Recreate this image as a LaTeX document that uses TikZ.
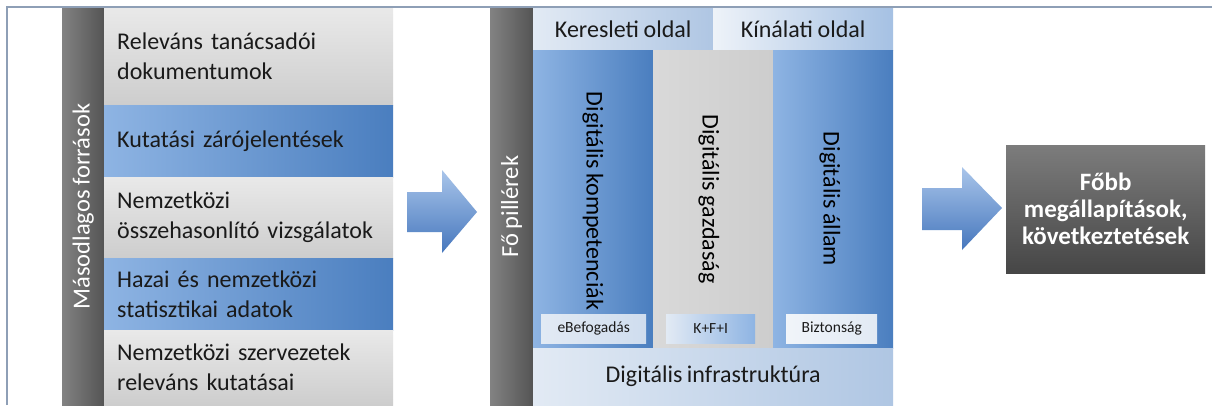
\documentclass[tikz,border=0pt]{standalone}
\usepackage{fontspec}
\setmainfont[WordSpace=0.85]{Carlito}
\definecolor{framec}{HTML}{8E9FB6}
\definecolor{barL}{HTML}{828282}
\definecolor{barR}{HTML}{545454}
\definecolor{grayT}{HTML}{E9E9E9}
\definecolor{grayB}{HTML}{CDCDCD}
\definecolor{blueL}{HTML}{8EB4E3}
\definecolor{blueR}{HTML}{4A7EBF}
\definecolor{paleL}{HTML}{E2EAF4}
\definecolor{paleR}{HTML}{AFC6E3}
\definecolor{midG}{HTML}{CDCDCD}
\definecolor{midGL}{HTML}{D9D9D9}
\definecolor{arrT}{HTML}{A9C5EA}
\definecolor{arrB}{HTML}{4677BD}
\definecolor{resT}{HTML}{7C7C7C}
\definecolor{resB}{HTML}{464646}
\definecolor{txt}{HTML}{1A1A1A}
\begin{document}
\begin{tikzpicture}[x=1pt,y=-1pt,
  boxbase/.style={rectangle, draw=none, inner sep=0pt, anchor=north west},
  darkbar/.style={boxbase, left color=barL, right color=barR},
  grayrow/.style={boxbase, top color=grayT, bottom color=grayB, align=left,
     text width=263pt, inner xsep=13pt, text=txt, font=\fontsize{24}{30}\selectfont},
  bluerow/.style={boxbase, left color=blueL, right color=blueR, align=left,
     text width=263pt, inner xsep=13pt, text=txt, font=\fontsize{24}{30}\selectfont},
  bartext/.style={rotate=90, text=white, font=\fontsize{24.5}{28}\selectfont},
  pilltext/.style={rotate=-90, text=black, font=\fontsize{24}{28}\selectfont},
  hdrtext/.style={text=txt, font=\fontsize{24}{28}\selectfont},
  subtext/.style={text=txt, font=\fontsize{15.5}{18}\selectfont},
  blockarrow/.style={top color=arrT, bottom color=arrB, draw=none}
]
\useasboundingbox (0,0) rectangle (1212,405);
\fill[white] (0,0) rectangle (1212,405);
% frame
\draw[framec, line width=1.6pt] (7,405) -- (7,7) -- (1212,7);

% ---- left panel
\node[darkbar, minimum width=42, minimum height=397] (bar1) at (62,8) {};
\node[bartext] (bar1t) at (bar1.center) {Másodlagos források};
\node[grayrow, minimum height=97] (r1) at (104,8) {Releváns tanácsadói\\dokumentumok};
\node[bluerow, minimum height=72] (r2) at (104,105) {Kutatási zárójelentések};
\node[grayrow, minimum height=81] (r3) at (104,177) {Nemzetközi\\összehasonlító vizsgálatok};
\node[bluerow, minimum height=72] (r4) at (104,258) {Hazai és nemzetközi\\statisztikai adatok};
\node[grayrow, minimum height=75] (r5) at (104,330) {Nemzetközi szervezetek\\releváns kutatásai};

% ---- arrow 1
\shade[blockarrow] (407,192) -- (442,192) -- (442,170) -- (477,212) -- (442,253) -- (442,232) -- (407,232) -- cycle;

% ---- middle panel
\node[darkbar, minimum width=43, minimum height=397] (bar2) at (490,8) {};
\node[bartext] (bar2t) at (bar2.center) {Fő pillérek};
\node[boxbase, minimum width=180, minimum height=42, left color=paleL, right color=paleR] (h1) at (533,8) {};
\node[hdrtext] (h1t) at (h1.center) {Keresleti oldal};
\node[boxbase, minimum width=180, minimum height=42, left color=paleL!60!white, right color=paleR!70!blueL] (h2) at (713,8) {};
\node[hdrtext] (h2t) at (h2.center) {Kínálati oldal};

\node[boxbase, minimum width=120, minimum height=298, left color=blueL, right color=blueR] (c1) at (533,50) {};
\node[boxbase, minimum width=120, minimum height=298, left color=midGL, right color=midG] (c2) at (653,50) {};
\node[boxbase, minimum width=120, minimum height=298, left color=blueL, right color=blueR] (c3) at (773,50) {};
\node[pilltext] (c1t) at (593,201) {Digitális kompetenciák};
\node[pilltext] (c2t) at (709,199) {Digitális gazdaság};
\node[pilltext] (c3t) at (830,199) {Digitális állam};

\node[boxbase, minimum width=105, minimum height=29, left color=paleL, right color=paleR!60!white] (s1) at (541,314) {};
\node[subtext] (s1t) at (s1.center) {eBefogadás};
\node[boxbase, minimum width=89, minimum height=29, left color=paleL, right color=blueL] (s2) at (666,314) {};
\node[subtext] (s2t) at (s2.center) {K+F+I};
\node[boxbase, minimum width=91, minimum height=29, left color=paleL!50!white, right color=paleL] (s3) at (786,314) {};
\node[subtext] (s3t) at (s3.center) {Biztonság};

\node[boxbase, minimum width=360, minimum height=57, left color=paleL, right color=paleR] (inf) at (533,348) {};
\node[hdrtext] (inft) at (inf.center) {Digitális infrastruktúra};

% ---- arrow 2
\shade[blockarrow] (922,188) -- (962,188) -- (962,167) -- (1002,208) -- (962,250) -- (962,230) -- (922,230) -- cycle;

% ---- result
\node[boxbase, minimum width=199, minimum height=128, top color=resT, bottom color=resB] (res) at (1006,145) {};
\node[text=white, align=center, font=\bfseries\fontsize{25}{27}\selectfont] (rest) at (res.center) {Főbb\\megállapítások,\\következtetések};
\end{tikzpicture}
\end{document}
